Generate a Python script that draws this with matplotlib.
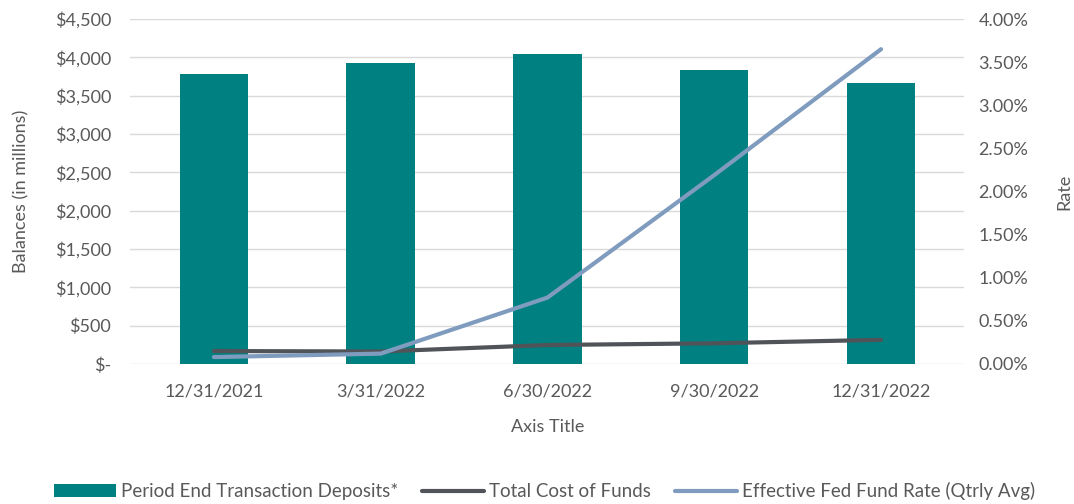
import matplotlib.pyplot as plt
from matplotlib.ticker import FuncFormatter, MultipleLocator

dates = ['12/31/2021', '3/31/2022', '6/30/2022', '9/30/2022', '12/31/2022']
deposits = [3783, 3926, 4043, 3835, 3665]
cost_of_funds = [0.15, 0.145, 0.22, 0.24, 0.28]
fed_rate = [0.08, 0.12, 0.77, 2.19, 3.65]

plt.rcParams['font.family'] = ['Lato', 'DejaVu Sans']
grey = '#595959'

fig = plt.figure(figsize=(10.74, 5.04), dpi=100)
ax = fig.add_axes([0.1215, 0.2778, 0.7765, 0.6845])
ax2 = ax.twinx()

x = range(len(dates))
bars = ax.bar(x, deposits, width=0.41, color='#008080', zorder=2,
              label='Period End Transaction Deposits*')
l1, = ax2.plot(x, cost_of_funds, color='#505459', lw=3.0, solid_capstyle='round',
               label='Total Cost of Funds')
l2, = ax2.plot(x, fed_rate, color='#7F9CBF', lw=3.0, solid_capstyle='round',
               label='Effective Fed Fund Rate (Qtrly Avg)')

ax.set_xlim(-0.5, 4.5)
ax.set_ylim(0, 4500)
ax.yaxis.set_major_locator(MultipleLocator(500))
ax.yaxis.set_major_formatter(FuncFormatter(lambda v, p: '$-' if v == 0 else '${:,.0f}'.format(v)))
ax2.set_ylim(0, 4.0)
ax2.yaxis.set_major_locator(MultipleLocator(0.5))
ax2.yaxis.set_major_formatter(FuncFormatter(lambda v, p: '{:.2f}%'.format(v)))

ax.set_xticks(list(x))
ax.set_xticklabels(dates)
ax.grid(axis='y', color='#d9d9d9', lw=1, zorder=0)
ax.set_axisbelow(True)
for a in (ax, ax2):
    for s in a.spines.values():
        s.set_visible(False)
    a.tick_params(length=0, colors=grey, labelsize=13)
ax.tick_params(axis='y', pad=14)
ax.tick_params(axis='x', pad=14)
ax2.tick_params(axis='y', pad=10)

ax.set_ylabel('Balances (in millions)', color=grey, fontsize=13, labelpad=18)
ax2.set_ylabel('Rate', color=grey, fontsize=13, rotation=90, labelpad=20)
ax.set_xlabel('Axis Title', color=grey, fontsize=13, labelpad=14)

fig.legend(handles=[bars, l1, l2], loc='center', bbox_to_anchor=(0.507, 0.025),
           ncol=3, frameon=False, handlelength=3.3, handletextpad=0.25,
           columnspacing=1.3, labelcolor=grey,
           prop={'family': ['Lato'], 'size': 13.5})

fig.savefig('out.png', dpi=100)
